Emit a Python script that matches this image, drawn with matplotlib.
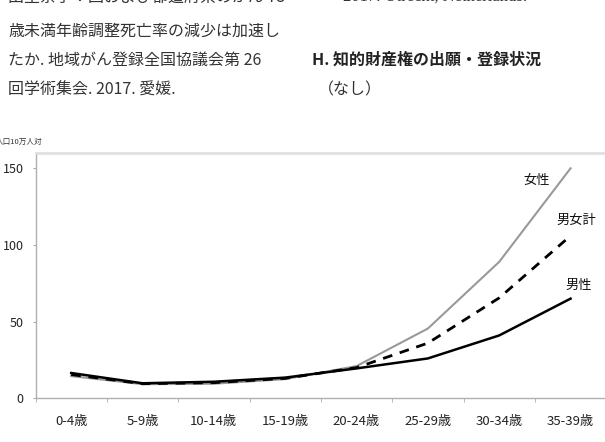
import matplotlib
matplotlib.use("Agg")
import matplotlib.pyplot as plt
import numpy as np

plt.rcParams['font.family'] = ['Noto Sans CJK JP', 'DejaVu Sans']

categories = ["0-4歳", "5-9歳", "10-14歳", "15-19歳", "20-24歳", "25-29歳", "30-34歳", "35-39歳"]
male = [16.5, 9.8, 10.8, 13.5, 19.5, 26, 41, 65]
female = [14.5, 9.2, 9.5, 12.5, 21, 45.5, 89, 150]
total = [15.5, 9.5, 10.2, 13.0, 20, 36, 65.5, 106]
yticks = [0, 50, 100, 150]

W, H = 605, 442
fig = plt.figure(figsize=(W / 100, H / 100), dpi=100)

# page text above the chart
def ftext(x, y, s, **kw):
    fig.text(x / W, 1 - y / H, s, va='center', ha='left', **kw)

txtcol = '#333333'
ftext(8, -3, "田里奈子：国および都道府県のがん 75", fontsize=11.5, color=txtcol)
ftext(8, 31, "歳未満年齢調整死亡率の減少は加速し", fontsize=11.5, color=txtcol)
ftext(8, 60, "たか. 地域がん登録全国協議会第 26", fontsize=11.5, color=txtcol)
ftext(8, 90, "回学術集会. 2017. 愛媛.", fontsize=11.5, color=txtcol)
ftext(343, -3, "2017. Utrecht, Netherlands.", fontsize=12, color=txtcol,
      family=['Liberation Serif'])
ftext(312, 60, "H. 知的財産権の出願・登録状況", fontsize=11.5, color='#222222', fontweight='bold')
ftext(318, 90, "（なし）", fontsize=11.5, color=txtcol)

ftext(-4, 142, "人口10万人対", fontsize=5.5, color='#333333')

left = 35.5 / W
bottom = (H - 398.3) / H
top = (H - 153) / H
ax = fig.add_axes([left, bottom, 1.0 - left + 0.002, top - bottom])

x = np.arange(len(categories))
ax.plot(x, female, color='#999999', lw=1.5, zorder=2)
ax.plot(x, total, color='black', lw=2.0, ls=(0, (3.5, 2.8)), zorder=3)
ax.plot(x, male, color='black', lw=1.8, zorder=4)

ax.set_xlim(-0.5, len(categories) - 0.5)
ax.set_ylim(0, 160)
ax.set_yticks(yticks)
ax.set_yticklabels([str(v) for v in yticks], fontsize=9, color='#222222')
ax.set_xticks(x)
ax.set_xticklabels(categories, fontsize=9.5, color='#222222')
ax.set_xticks(np.arange(len(categories) + 1) - 0.5, minor=True)
ax.tick_params(axis='x', which='major', length=0, pad=12)
ax.tick_params(axis='x', which='minor', length=3, color='#aaaaaa', direction='out')
ax.tick_params(axis='y', length=2.5, color='#aaaaaa', pad=6)

for s in ['left', 'bottom']:
    ax.spines[s].set_color('#b0b0b0')
    ax.spines[s].set_linewidth(1.0)
ax.spines['top'].set_color('#e0e0e0')
ax.spines['top'].set_linewidth(2.0)
ax.spines['right'].set_visible(False)

def dtext(px, py, s):
    fig.text(px / W, 1 - py / H, s, ha='center', va='center', fontsize=9.5, color='#111111')

dtext(537, 180, "女性")
dtext(576, 220, "男女計")
dtext(579, 285, "男性")

fig.savefig("out.png", dpi=100)
